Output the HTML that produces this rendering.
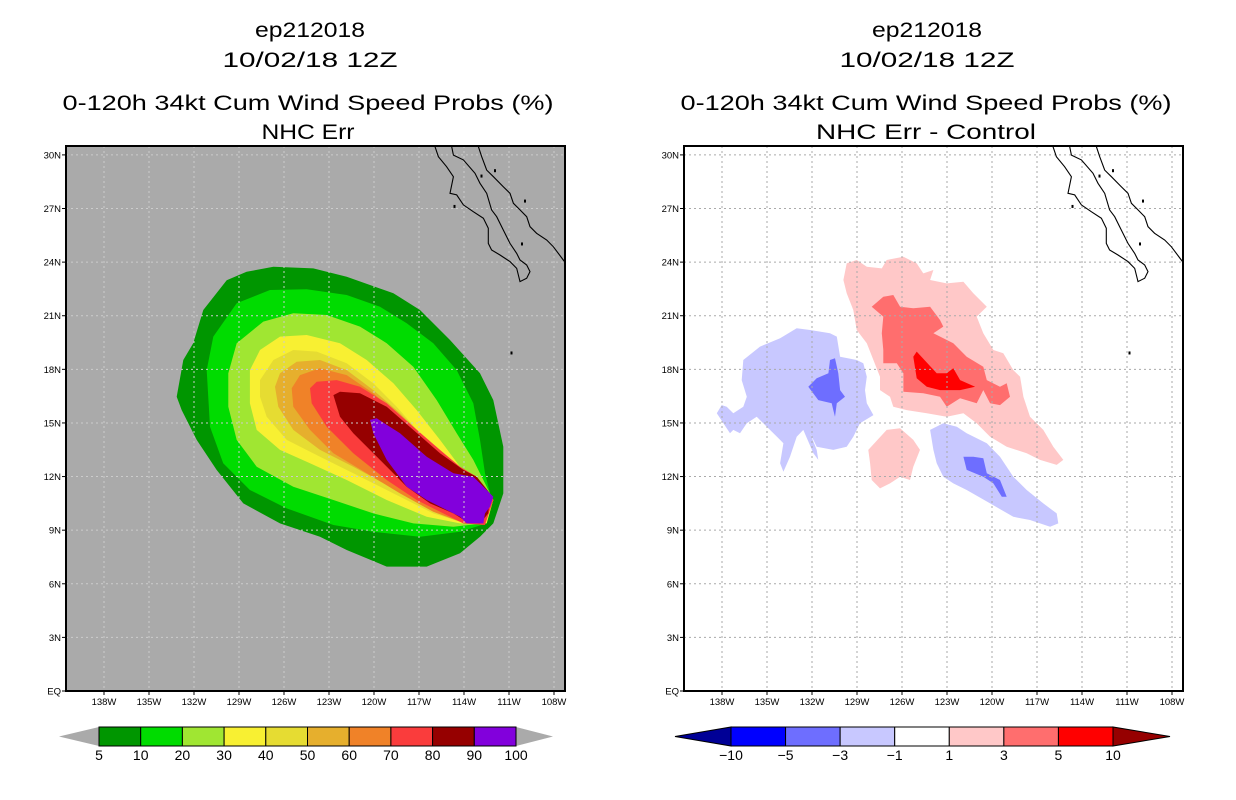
<!DOCTYPE html>
<html><head><meta charset="utf-8"><style>
html,body{margin:0;padding:0;background:#fff;}
svg{display:block;font-family:"Liberation Sans",sans-serif;}
</style></head><body>
<svg id="chart" width="1236" height="800" viewBox="0 0 1236 800" xmlns="http://www.w3.org/2000/svg">
<defs>
<clipPath id="clipL"><rect x="66" y="146" width="499" height="545"/></clipPath>
<clipPath id="clipR"><rect x="684" y="146" width="499" height="545"/></clipPath>
</defs>
<g font-size="21" text-anchor="middle" fill="#000">
<text x="310" y="37" textLength="110" lengthAdjust="spacingAndGlyphs">ep212018</text>
<text x="310" y="67" textLength="175" lengthAdjust="spacingAndGlyphs">10/02/18 12Z</text>
<text x="308" y="110" textLength="491" lengthAdjust="spacingAndGlyphs">0-120h 34kt Cum Wind Speed Probs (%)</text>
<text x="308" y="139" textLength="93" lengthAdjust="spacingAndGlyphs">NHC Err</text>
</g>
<g font-size="21" text-anchor="middle" fill="#000">
<text x="927" y="37" textLength="110" lengthAdjust="spacingAndGlyphs">ep212018</text>
<text x="927" y="67" textLength="175" lengthAdjust="spacingAndGlyphs">10/02/18 12Z</text>
<text x="926" y="110" textLength="491" lengthAdjust="spacingAndGlyphs">0-120h 34kt Cum Wind Speed Probs (%)</text>
<text x="926" y="139" textLength="220" lengthAdjust="spacingAndGlyphs">NHC Err - Control</text>
</g>
<g id="left-panel"></g>
<g id="right-panel"></g>
<g id="left-cbar"></g>
<g id="right-cbar"></g>
</svg>
<script>
// ---- data ----
const lonTicks = [138,135,132,129,126,123,120,117,114,111,108];
const latTicks = [0,3,6,9,12,15,18,21,24,27,30];
const leftLevels = [5,10,20,30,40,50,60,70,80,90,100];
const leftColors = ["#009600","#00dc00","#a0e632","#f8f032","#e6dc32","#e6af2d","#f08228","#fa3c3c","#960000","#8200dc"];
const rightLevels = [-10,-5,-3,-1,1,3,5,10];
const rightColors = ["#0000ff","#6e6eff","#c8c8ff","#ffffff","#ffc8c8","#ff6e6e","#ff0000"];
// contour polygons [lonW, latN]
const probC5 = [[133.15,16.47],[132.71,18.52],[132.05,19.46],[131.38,21.32],[129.82,22.99],[128.49,23.46],[126.71,23.74],[124.05,23.65],[121.82,23.18],[118.71,22.26],[116.93,21.32],[114.93,19.64],[112.93,17.78],[112.05,16.28],[111.38,13.67],[111.38,11.06],[112.05,9.38],[112.93,8.63],[114.27,7.71],[116.49,6.96],[119.15,6.96],[121.82,7.89],[123.6,8.63],[126.27,9.38],[128.71,10.5],[130.49,12.37],[131.82,14.05],[132.82,15.72]];
const probC10 = [[131.15,17.96],[130.71,19.83],[129.15,21.7],[126.93,22.44],[124.49,22.48],[121.82,22.16],[119.6,21.5],[117.82,20.58],[116.05,19.46],[114.49,17.96],[113.38,16.1],[112.93,14.05],[112.6,12.18],[112.27,11.06],[112.49,9.38],[114.27,8.91],[116.93,8.63],[120.05,8.91],[122.71,9.29],[125.82,10.22],[128.27,11.25],[130.05,12.74],[130.93,14.79]];
const probC20 = [[129.71,17.78],[129.15,19.46],[127.38,20.67],[125.38,21.14],[123.15,21.04],[120.93,20.39],[119.15,19.46],[117.38,18.15],[115.82,16.28],[114.49,14.42],[113.38,12.93],[112.49,11.43],[112.05,10.69],[112.71,9.38],[114.71,9.19],[117.38,9.38],[120.05,9.94],[122.71,10.69],[125.38,11.43],[127.82,12.55],[129.15,14.05],[129.71,15.91]];
const probC30 = [[128.27,17.96],[127.6,19.08],[126.27,19.83],[124.49,19.92],[122.27,19.46],[120.49,18.52],[118.71,17.22],[117.15,15.72],[115.6,14.05],[114.27,12.55],[112.93,11.43],[112.05,10.69],[112.49,9.38],[114.27,9.38],[116.49,9.75],[119.15,10.69],[121.82,11.81],[124.27,12.74],[126.27,13.49],[127.82,14.61],[128.27,16.1]];
const probC40 = [[127.6,17.4],[126.71,18.52],[125.38,19.08],[123.82,18.99],[121.82,18.34],[120.05,17.22],[118.49,15.91],[116.93,14.42],[115.38,13.11],[113.82,12.18],[112.49,11.25],[112.05,10.69],[112.6,9.38],[114.27,9.47],[116.05,9.94],[118.71,11.06],[121.38,12.18],[123.6,13.11],[125.82,14.05],[127.15,15.35],[127.6,16.47]];
const probC50 = [[126.6,17.03],[126.27,17.78],[125.15,18.43],[123.6,18.52],[121.82,17.96],[120.05,16.84],[118.27,15.54],[116.49,14.05],[114.71,12.74],[113.15,11.99],[112.05,10.69],[112.71,9.38],[114.27,9.57],[116.49,10.31],[118.93,11.43],[121.38,12.55],[123.6,13.49],[125.38,14.61],[126.38,15.91]];
const probC60 = [[125.49,16.94],[124.93,17.68],[123.6,18.06],[121.82,17.68],[120.05,16.66],[118.27,15.35],[116.49,13.67],[114.71,12.55],[113.15,11.99],[112.05,10.69],[112.71,9.29],[114.27,9.47],[116.05,10.03],[118.27,11.06],[120.49,12.18],[122.71,13.3],[124.27,14.61],[125.38,15.91]];
const probC70 = [[124.27,16.94],[123.82,17.31],[122.49,17.4],[120.93,17.03],[119.15,16.1],[117.38,14.79],[115.6,13.49],[114.27,12.55],[113.15,11.99],[112.05,10.69],[112.6,9.29],[114.05,9.38],[115.38,9.94],[117.15,10.69],[119.15,11.81],[121.38,13.3],[123.15,14.79],[124.15,16.1]];
const probC80 = [[122.71,16.56],[122.27,16.75],[120.93,16.66],[119.15,15.91],[117.38,14.61],[115.6,13.3],[114.05,12.37],[113.15,11.99],[112.27,11.06],[112.38,9.94],[112.93,9.38],[113.82,9.47],[114.71,9.94],[116.27,10.5],[117.82,11.43],[119.6,12.93],[121.38,14.42],[122.27,15.35]];
const probC90 = [[120.27,15.17],[119.82,15.26],[118.27,14.42],[116.49,13.11],[114.71,12.18],[113.38,11.99],[112.71,11.43],[112.05,10.87],[112.27,10.31],[112.6,9.94],[112.71,9.38],[113.82,9.38],[114.27,9.75],[115.15,10.13],[116.49,10.69],[117.82,11.43],[119.15,12.93],[120.05,14.42]];
const diffPos1 = [[129.91,23.0],[129.69,23.93],[129.02,24.12],[128.35,23.74],[127.35,23.65],[127.02,24.12],[125.91,24.3],[125.02,23.93],[124.58,23.37],[123.91,23.56],[124.13,23.0],[123.02,22.81],[121.91,22.9],[121.25,22.26],[120.35,21.5],[121.02,20.95],[120.58,20.02],[119.91,19.08],[119.25,18.9],[118.58,17.96],[118.13,17.59],[117.91,16.47],[117.47,15.35],[116.58,14.61],[115.91,13.67],[115.25,12.93],[115.69,12.65],[116.8,12.93],[117.69,13.3],[119.02,13.67],[120.13,14.23],[121.02,14.98],[121.91,15.54],[123.02,15.35],[124.35,15.54],[125.69,15.72],[126.58,15.91],[126.8,16.47],[127.47,16.84],[127.47,17.59],[127.91,18.52],[128.35,19.46],[129.02,20.2],[129.25,21.32],[129.69,22.26]];
const diffPos1b = [[128.25,13.49],[127.02,14.61],[126.13,14.7],[125.25,14.05],[124.8,13.49],[125.25,12.55],[125.47,11.81],[126.13,11.99],[126.8,11.62],[127.47,11.34],[128.02,11.81],[128.13,12.74]];
const diffPos3 = [[128.02,21.5],[127.25,22.06],[126.58,22.16],[126.13,21.5],[125.25,21.42],[124.13,21.5],[123.47,20.76],[123.25,20.39],[123.91,20.02],[122.58,19.46],[121.69,18.71],[120.58,18.15],[120.35,17.4],[119.47,17.03],[119.02,17.22],[118.8,16.47],[119.47,16.0],[120.13,16.1],[120.58,16.84],[121.02,16.1],[122.13,16.38],[123.02,15.91],[123.47,16.47],[124.58,16.66],[125.91,16.75],[125.91,17.78],[126.35,18.34],[127.25,18.34],[127.25,19.08],[127.35,20.02],[127.25,20.95]];
const diffPos5 = [[125.25,18.71],[125.02,18.99],[123.69,17.78],[123.02,17.78],[122.58,18.06],[122.13,17.4],[121.13,17.03],[122.13,16.84],[123.47,16.84],[124.35,17.03],[125.02,17.5]];
const diffNeg1 = [[138.35,15.54],[138.02,16.0],[137.69,15.91],[137.25,15.54],[136.58,15.91],[136.35,16.47],[136.69,17.4],[136.58,18.52],[135.47,19.27],[134.13,19.74],[133.02,20.3],[132.13,20.2],[130.8,20.02],[130.35,19.83],[130.13,18.71],[129.02,18.52],[128.58,18.34],[128.35,17.59],[128.47,16.84],[128.35,16.1],[127.91,15.44],[128.8,14.98],[129.25,14.23],[129.69,13.67],[130.58,13.49],[131.69,13.67],[131.91,14.05],[132.13,14.42],[131.69,13.49],[131.58,12.93],[131.91,13.3],[132.58,14.61],[133.02,14.23],[133.47,13.11],[133.91,12.27],[134.13,12.74],[133.91,13.86],[134.13,14.05],[134.8,14.61],[135.69,15.35],[136.35,14.98],[136.8,14.42],[137.25,14.61],[137.47,14.42],[137.91,14.98]];
const diffNeg1b = [[124.13,14.61],[123.25,14.98],[122.35,14.79],[121.69,14.42],[120.35,13.86],[119.47,13.11],[118.58,11.99],[117.69,11.25],[116.58,10.5],[115.69,9.94],[115.58,9.38],[116.13,9.19],[117.47,9.57],[118.58,9.75],[120.13,10.5],[121.69,11.25],[122.58,11.62],[123.25,11.99],[123.69,12.74],[123.91,13.49]];
const diffNeg3 = [[132.25,17.03],[131.69,17.5],[130.91,17.78],[130.8,18.52],[130.47,18.62],[130.25,17.78],[130.13,16.84],[129.8,16.47],[130.35,16.1],[130.47,15.35],[130.58,15.72],[130.69,16.1],[131.58,16.28]];
const diffNeg3b = [[121.91,13.11],[121.25,13.11],[120.58,13.02],[120.35,12.18],[119.47,11.81],[119.02,10.87],[119.35,10.87],[119.91,11.62],[120.58,11.99],[121.69,12.37]];
const coastBaja = [[115.95,30.8],[115.93,30.46],[115.71,29.9],[115.16,29.34],[114.71,28.78],[114.93,27.85],[114.49,27.76],[114.04,27.2],[113.38,26.82],[112.71,26.45],[112.38,25.89],[112.38,25.05],[112.16,24.68],[111.6,24.4],[110.93,24.03],[110.49,23.65],[110.27,22.91],[109.82,23.1],[109.6,23.47],[109.82,23.84],[110.27,24.12],[110.49,24.49],[110.93,25.05],[111.38,25.8],[111.82,26.54],[112.16,26.92],[112.49,27.85],[112.93,28.41],[113.27,28.97],[114.04,29.72],[114.71,29.99],[114.82,30.46],[114.85,30.8]];
const coastMainland = [[113.08,30.8],[113.04,30.46],[112.82,29.9],[112.49,29.15],[112.04,28.78],[111.38,28.22],[110.93,27.85],[110.71,27.29],[110.27,26.92],[109.82,26.54],[109.6,25.98],[109.16,25.61],[108.49,25.24],[108.04,24.86],[107.38,24.12],[107.0,23.7]];
const islands = [[112.0,29.2],[112.9,28.9],[110.0,27.5],[114.7,27.2],[110.2,25.1],[110.9,19.0]];

// ---- scales ----
const NS="http://www.w3.org/2000/svg";
function xs(panelLeft, w){ return panelLeft + 38 + (138 - w) * 15; }
function ys(lat){ return 691 - lat * 17.87; }
function mk(tag, attrs, parent){ const e=document.createElementNS(NS,tag); for(const k in attrs) e.setAttribute(k,attrs[k]); parent.appendChild(e); return e; }
function pts(pl, arr){ return arr.map(p=>xs(pl,p[0]).toFixed(1)+","+ys(p[1]).toFixed(1)).join(" "); }

function drawPanel(gid, pl, bg, polys, clip){
  const g=document.getElementById(gid);
  const bgRect=mk("rect",{x:pl,y:146,width:499,height:545,fill:bg},g);
  
  
  const cg=mk("g",{"clip-path":"url(#"+clip+")"},g);
  polys.forEach(pp=>{
    const p=mk("polygon",{points:pts(pl,pp.d),fill:pp.c},cg);
    
    
  });
  // grid
  const gg=mk("g",{stroke:bg==="#aaaaaa"?"#cccccc":"#aaaaaa","stroke-width":1,"stroke-dasharray":"2,3"},cg);
  
  
  lonTicks.forEach(w=>{ mk("line",{x1:xs(pl,w),x2:xs(pl,w),y1:146,y2:691},gg); });
  latTicks.forEach(l=>{ if(l>0) mk("line",{x1:pl,x2:pl+499,y1:ys(l),y2:ys(l)},gg); });
  // coast
  const cst=mk("g",{fill:"none",stroke:"#000","stroke-width":1.1},cg);
  
  
  mk("polyline",{points:pts(pl,coastBaja)},cst);
  mk("polyline",{points:pts(pl,coastMainland)},cst);
  islands.forEach(p=>{ mk("rect",{x:xs(pl,p[0]),y:ys(p[1]),width:2,height:3,fill:"#000",stroke:"none"},cst); });
  // frame
  const fr=mk("rect",{x:pl,y:146,width:499,height:545,fill:"none",stroke:"#000","stroke-width":2},g);
  
  
  // ticks & labels
  const ax=mk("g",{"font-size":"9.5",fill:"#000"},g);
  
  
  lonTicks.forEach(w=>{
    mk("line",{x1:xs(pl,w),x2:xs(pl,w),y1:691,y2:695,stroke:"#000"},ax);
    const t=mk("text",{x:xs(pl,w),y:705,"text-anchor":"middle"},ax); t.textContent=w+"W";
    
    
  });
  latTicks.forEach(l=>{
    mk("line",{x1:pl-4,x2:pl,y1:ys(l),y2:ys(l),stroke:"#000"},ax);
    const t=mk("text",{x:pl-5,y:ys(l)+3.5,"text-anchor":"end"},ax); t.textContent=l===0?"EQ":l+"N";
    
    
  });
}
const leftPolys=[probC5,probC10,probC20,probC30,probC40,probC50,probC60,probC70,probC80,probC90].map((d,i)=>({d:d,c:leftColors[i],n:"contour-"+leftLevels[i]}));
drawPanel("left-panel",66,"#aaaaaa",leftPolys,"clipL");
const rightPolys=[
 {d:diffPos1,c:rightColors[4],n:"diff-pos1-north"},{d:diffPos1b,c:rightColors[4],n:"diff-pos1-south"},
 {d:diffPos3,c:rightColors[5],n:"diff-pos3"},{d:diffPos5,c:rightColors[6],n:"diff-pos5"},
 {d:diffNeg1,c:rightColors[2],n:"diff-neg1-west"},{d:diffNeg1b,c:rightColors[2],n:"diff-neg1-east"},
 {d:diffNeg3,c:rightColors[1],n:"diff-neg3-west"},{d:diffNeg3b,c:rightColors[1],n:"diff-neg3-east"}];
drawPanel("right-panel",684,"#ffffff",rightPolys,"clipR");

function drawCbar(gid, x0, x1, tipL, tipR, levels, colors, lc, rc, dashed){
  const g=document.getElementById(gid);
  const n=colors.length, w=(x1-x0)/n, y0=727, y1=746, ym=736.5;
  const tl=mk("polygon",{points:`${tipL},${ym} ${x0},${y0} ${x0},${y1}`,fill:lc,stroke:dashed?"none":"#000"},g);
  
  
  const tr=mk("polygon",{points:`${tipR},${ym} ${x1},${y0} ${x1},${y1}`,fill:rc,stroke:dashed?"none":"#000"},g);
  
  
  colors.forEach((c,i)=>{
    const r=mk("rect",{x:x0+i*w,y:y0,width:w,height:y1-y0,fill:c,stroke:"#000","stroke-width":1},g);
    
    
  });
  levels.forEach((v,i)=>{
    const t=mk("text",{x:x0+i*w,y:760,"text-anchor":"middle","font-size":"14",fill:"#000"},g);
    t.textContent=v<0?"\u2212"+(-v):String(v);
    
    
  });
}
drawCbar("left-cbar",99,516,59,553,leftLevels,leftColors,"#aaaaaa","#aaaaaa",true);
drawCbar("right-cbar",731,1113,675,1170,rightLevels,rightColors,"#000096","#960000",false);
</script>
</body></html>
